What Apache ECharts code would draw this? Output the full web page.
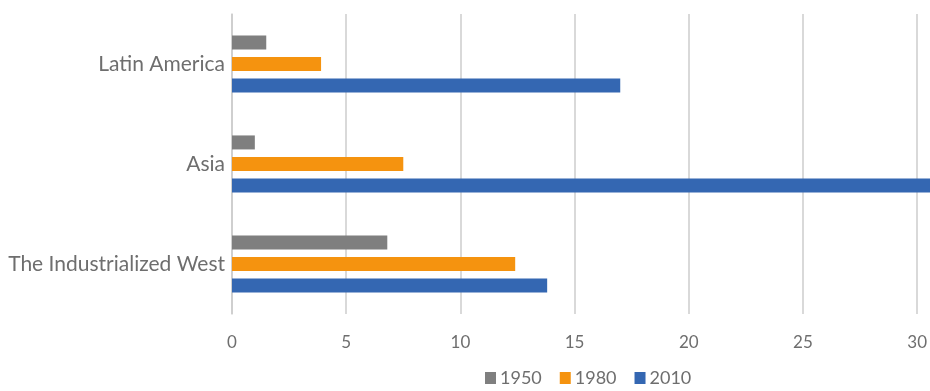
<!DOCTYPE html>
<html>
<head>
<meta charset="utf-8">
<script src="https://cdn.jsdelivr.net/npm/echarts@6/dist/echarts.min.js"></script>
<style>
 html,body{margin:0;padding:0;background:#fff;}
 #chart{width:930px;height:391px;}
</style>
</head>
<body>
<div id="chart"></div>
<script>
// regions, top to bottom as in the picture
var regions = ['Latin America', 'Asia', 'The Industrialized West'];
var years = ['1950', '1980', '2010'];
var v1950 = [1.5, 1.0, 6.8];
var v1980 = [3.9, 7.5, 12.4];
var v2010 = [17.0, 32.0, 13.8];   // Asia runs off the right edge
var xMax = 30;

var colors = ['#7f7f7f', '#f5930f', '#3467b2'];
var txt = '#6e6e6e';

var myChart = echarts.init(document.getElementById('chart'));
var option = {
  animation: false,
  textStyle: { fontFamily: 'Lato, "Open Sans", sans-serif' },
  grid: { left: 232, top: 14, bottom: 77, right: 12 },
  legend: {
    data: years,
    left: 480, top: 364,
    itemWidth: 11, itemHeight: 12, itemGap: 18,
    icon: 'rect',
    textStyle: { color: txt, fontSize: 18, padding: [0, 0, 0, -1] }
  },
  xAxis: {
    type: 'value',
    min: 0, max: xMax, interval: 5,
    axisLine: { show: false },
    axisTick: { show: false },
    axisLabel: { color: txt, fontSize: 17, margin: 20 },
    splitLine: { lineStyle: { color: '#cccccc', width: 1.5 } }
  },
  yAxis: {
    type: 'category',
    inverse: true,
    data: regions,
    axisLine: { show: true, lineStyle: { color: '#cccccc', width: 1.5 } },
    axisTick: { show: false },
    axisLabel: { color: txt, fontSize: 21, margin: 7 }
  },
  series: [
    { name: years[0], type: 'bar', data: v1950, itemStyle: { color: colors[0] }, barWidth: 14, barGap: '54%', clip: false },
    { name: years[1], type: 'bar', data: v1980, itemStyle: { color: colors[1] }, barWidth: 14, barGap: '54%', clip: false },
    { name: years[2], type: 'bar', data: v2010, itemStyle: { color: colors[2] }, barWidth: 14, barGap: '54%', clip: false }
  ]
};
myChart.setOption(option);
</script>
</body>
</html>
